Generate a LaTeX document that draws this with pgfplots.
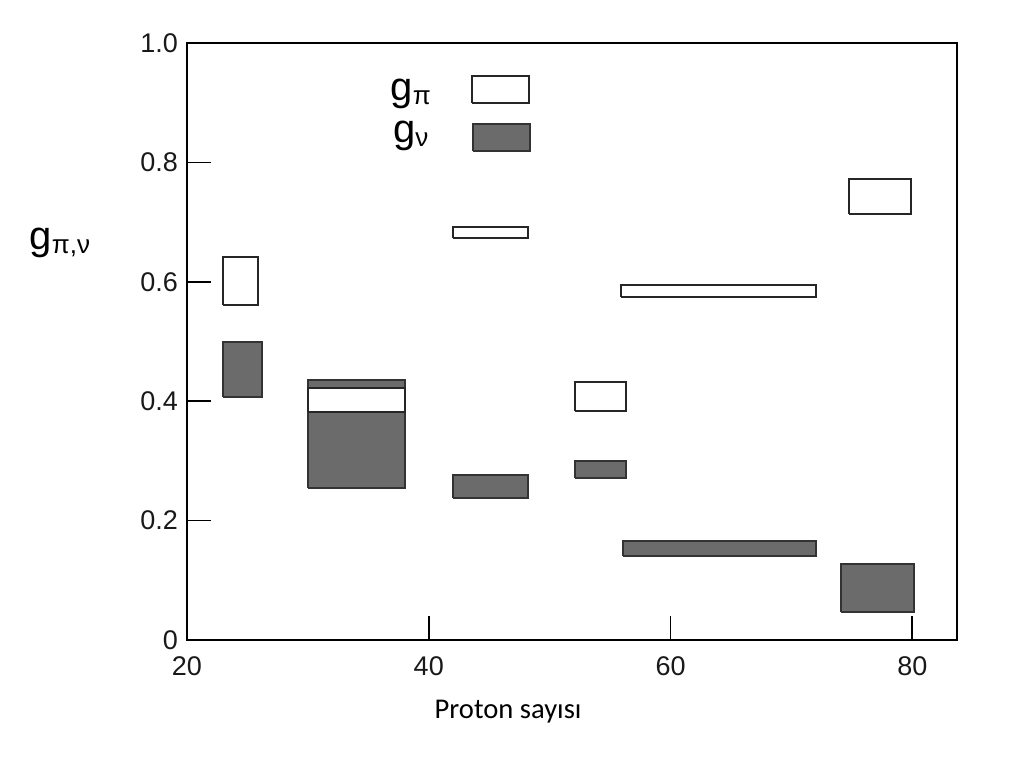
\documentclass[border=0pt]{standalone}
\usepackage{pgfplots}
\pgfplotsset{compat=1.18}
\usepackage{fontspec}
\setmainfont{Liberation Sans}
\newfontfamily\carl{Carlito}
\definecolor{shade}{gray}{0.42}
\begin{document}
\begin{tikzpicture}
\path (0,0) rectangle (516.5pt,382.5pt);
\begin{axis}[
  at={(93.5pt,62.5pt)}, anchor=south west,
  scale only axis, width=385pt, height=298.5pt,
  xmin=20, xmax=83.7, ymin=0, ymax=1.0,
  xtick={20,40,60,80}, ytick={0,0.2,0.4,0.6,0.8,1.0},
  yticklabels={0,0.2,0.4,0.6,0.8,1.0},
  xtick pos=bottom, ytick pos=left,
  tick align=inside, major tick length=12pt,
  axis line style={line width=1pt}, tick style={line width=0.8pt, black},
  /pgf/number format/assume math mode=true,
  ticklabel style={font=\fontsize{13.5}{14}\selectfont, text=black!90},
  xticklabel style={yshift=-5pt},
  yticklabel style={xshift=-1pt},
  xlabel={\carl\fontsize{14.3}{16}\selectfont Proton sayısı},
  xlabel style={at={(axis description cs:0.417,-0.12)}, anchor=center},
  ylabel={{\fontsize{20}{20}\selectfont g}\raisebox{-0.4ex}{\fontsize{13}{13}\selectfont π,ν}},
  ylabel style={at={(axis description cs:-0.165,0.665)}, anchor=center, rotate=-90},
  clip=false,
]
\pgfplotsset{openbox/.style={draw=black!85, line width=1pt, fill=white, line join=miter},
             fillbox/.style={draw=black!80, line width=1pt, fill=shade, line join=miter}}
% filled boxes (g_nu)
\addplot[fillbox] coordinates {(23,0.407)(26.2,0.407)(26.2,0.499)(23,0.499)(23,0.407)};
\addplot[fillbox] coordinates {(30,0.255)(38,0.255)(38,0.435)(30,0.435)(30,0.255)};
\addplot[fillbox] coordinates {(42,0.238)(48.2,0.238)(48.2,0.277)(42,0.277)(42,0.238)};
\addplot[fillbox] coordinates {(52.1,0.271)(56.3,0.271)(56.3,0.300)(52.1,0.300)(52.1,0.271)};
\addplot[fillbox] coordinates {(56.1,0.141)(72,0.141)(72,0.166)(56.1,0.166)(56.1,0.141)};
\addplot[fillbox] coordinates {(74.1,0.047)(80.1,0.047)(80.1,0.127)(74.1,0.127)(74.1,0.047)};
% open boxes (g_pi)
\addplot[openbox] coordinates {(23,0.561)(25.9,0.561)(25.9,0.641)(23,0.641)(23,0.561)};
\addplot[openbox] coordinates {(30,0.382)(38,0.382)(38,0.422)(30,0.422)(30,0.382)};
\addplot[openbox] coordinates {(42,0.673)(48.2,0.673)(48.2,0.692)(42,0.692)(42,0.673)};
\addplot[openbox] coordinates {(52.1,0.384)(56.3,0.384)(56.3,0.432)(52.1,0.432)(52.1,0.384)};
\addplot[openbox] coordinates {(55.9,0.575)(72,0.575)(72,0.595)(55.9,0.595)(55.9,0.575)};
\addplot[openbox] coordinates {(74.8,0.714)(79.9,0.714)(79.9,0.772)(74.8,0.772)(74.8,0.714)};
% legend
\addplot[openbox] coordinates {(43.6,0.900)(48.3,0.900)(48.3,0.945)(43.6,0.945)(43.6,0.900)};
\addplot[fillbox] coordinates {(43.7,0.819)(48.4,0.819)(48.4,0.864)(43.7,0.864)(43.7,0.819)};
\node[anchor=center] at (axis cs:38.5,0.915) {{\fontsize{20}{20}\selectfont g}\raisebox{-0.4ex}{\fontsize{13}{13}\selectfont π}};
\node[anchor=center] at (axis cs:38.5,0.845) {{\fontsize{20}{20}\selectfont g}\raisebox{-0.4ex}{\fontsize{13}{13}\selectfont ν}};
\end{axis}
\end{tikzpicture}
\end{document}
